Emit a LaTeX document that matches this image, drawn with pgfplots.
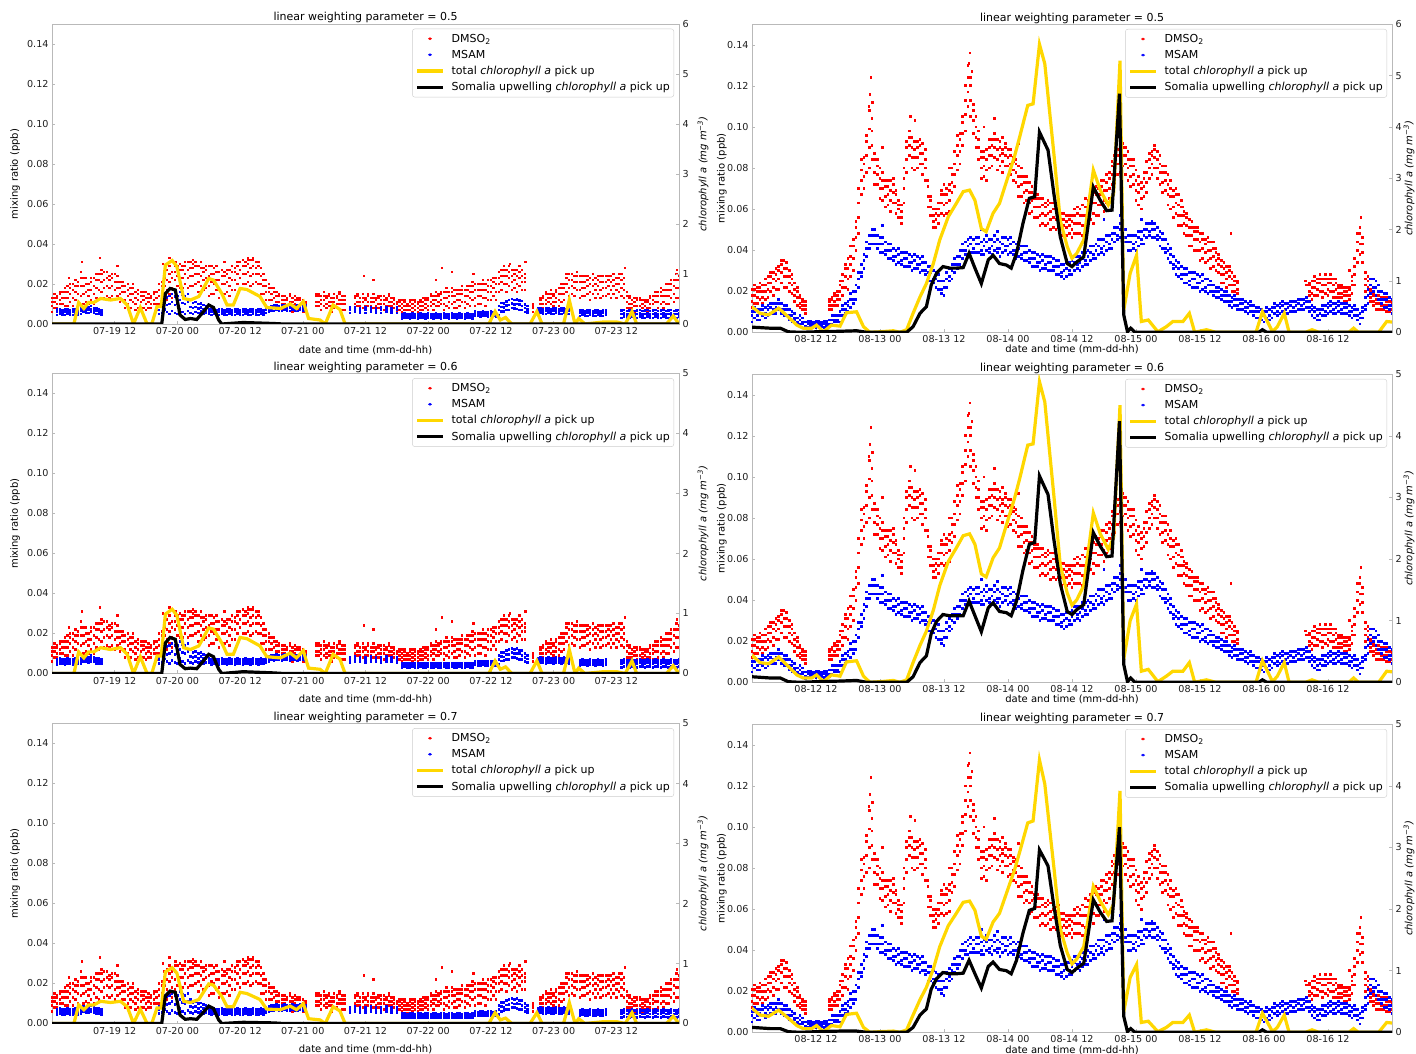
\documentclass[border=0pt]{standalone}
\usepackage{fontspec}
\setmainfont{DejaVu Sans}
\usepackage{pgfplots}
\usepackage{pgfplotstable}
\pgfplotsset{compat=1.18}
\definecolor{spine}{RGB}{185,185,185}
\definecolor{txt}{RGB}{30,30,30}
\definecolor{gold}{RGB}{255,215,0}
\definecolor{legbd}{RGB}{204,204,204}
\newcommand{\tickfont}{\fontsize{9.6}{11}\selectfont}
\newcommand{\labfont}{\fontsize{11}{13}\selectfont}
\pgfdeclareplotmark{sq}{\pgfpathrectangle{\pgfqpoint{-1.2pt}{-1.4pt}}{\pgfqpoint{2.4pt}{2.8pt}}\pgfusepathqfill}

% ---------- left column: DMSO2 (ppt = 0.001 ppb) ----------
\pgfplotstableread{
x a b c d
0 6 9 11 13
0.5 8 11 13 15
1 8 10 13 14
1.5 10 12 15 16
2 7 10 13 16
2.5 9 13 16 18
3 9 13 16 19
3.5 11 15 18 20
4 9 13 17 20
4.5 12 16 19 22
5 10 15 19 21
5.5 14 19 23 26
6 10 15 19 23
6.5 11 16 20 23
7 10 14 17 20
7.5 12 17 21 23
8 10 15 19 23
8.5 13 18 22 25
9 12 17 22 25
9.5 16 21 25 27
10 13 18 22 26
10.5 14 19 23 26
11 13 18 22 24
11.5 14 19 23 25
12 12 17 21 25
12.5 14 18 21 24
13 11 15 18 21
13.5 12 16 19 21
14 8 12 16 19
14.5 10 14 17 20
15 8 12 15 18
15.5 11 15 18 20
16 7 10 13 16
16.5 8 12 15 17
17 8 11 14 16
17.5 8 12 14 16
18 7 10 13 16
18.5 8 11 13 15
19 8 10 13 14
19.5 10 12 15 16
20 7 10 13 16
20.5 10 14 17 20
21 10 15 19 21
21.5 14 19 23 26
22 12 17 22 27
22.5 15 21 25 29
23 13 18 23 26
23.5 17 22 26 29
24 14 19 24 29
24.5 18 23 27 30
25 18 23 27 29
25.5 20 25 29 31
26 18 23 27 31
26.5 19 24 28 31
27 19 24 28 30
27.5 20 25 29 31
28 16 21 25 29
28.5 19 24 28 31
29 17 22 26 28
29.5 18 23 27 29
30 14 19 24 29
30.5 15 21 25 29
31 15 20 25 28
31.5 17 22 26 29
32 13 18 22 26
32.5 15 20 24 27
33 15 20 24 26
33.5 16 21 25 27
34 14 19 23 27
34.5 17 22 26 29
35 17 22 26 28
35.5 20 25 29 31
36 18 23 27 31
36.5 20 25 29 32
37 20 25 29 31
37.5 21 26 30 32
38 19 24 28 32
38.5 20 25 29 32
39 21 25 28 31
39.5 20 25 29 31
40 15 20 24 28
40.5 15 19 22 25
41 12 16 19 22
41.5 12 16 18 20
42 9 12 15 18
42.5 9 13 16 18
43 8 11 14 16
43.5 9 11 14 15
44 7 10 12 14
44.5 7 10 12 14
45 7 9 12 13
45.5 9 11 14 15
46 6 9 11 13
46.5 7 10 12 14
47 7 9 12 13
47.5 7 9 12 13
48 6 8 10 12
48.5 6 8 10 11
50.5 9 11 14 15
51 9 11 14 15
51.5 7 10 12 14
52 9 12 14 16
52.5 8 10 13 14
53 9 11 14 15
53.5 6 9 11 13
54 8 11 13 15
54.5 8 10 13 14
55 10 12 15 16
55.5 7 10 12 14
56 7 10 12 14
58 8 10 13 14
58.5 9 11 14 15
59 6 9 11 13
59.5 8 11 13 15
60 7 9 12 13
60.5 9 11 14 15
61 6 9 11 13
61.5 8 11 13 15
62 7 9 12 13
62.5 8 10 13 14
63 7 10 12 14
63.5 7 10 12 14
64 7 9 12 13
64.5 9 11 14 15
65 6 9 11 13
65.5 8 10 12 13
66 6 8 10 11
66.5 7 9 11 12
67 6 8 10 12
67.5 7 9 11 12
68 5 7 9 10
68.5 7 9 11 12
69 6 8 10 12
69.5 7 9 11 12
70 6 8 10 11
70.5 7 9 11 12
71 7 9 11 13
71.5 8 10 12 13
72 7 9 12 13
72.5 9 11 14 15
73 7 10 12 14
73.5 9 12 14 16
74 9 11 14 15
74.5 10 12 15 16
75 7 10 13 16
75.5 9 13 16 18
76 8 11 14 16
76.5 10 14 16 18
77 8 11 14 17
77.5 8 12 15 17
78 9 12 15 17
78.5 11 15 17 19
79 8 11 14 17
79.5 10 14 17 19
80 9 13 16 19
80.5 12 16 19 21
81 9 13 17 20
81.5 10 14 17 20
82 10 14 17 20
82.5 13 17 20 22
83 9 13 17 20
83.5 12 16 19 22
84 12 16 19 22
84.5 14 18 21 23
85 12 16 20 23
85.5 16 20 23 26
86 17 21 24 27
86.5 20 24 27 29
87 16 20 24 27
87.5 19 23 26 29
88 17 21 24 27
88.5 18 22 25 27
89 16 20 24 27
89.5 19 23 26 29
90 17 21 24 27
90.5 17 21 23 25
92 6 8 9 10
93.5 8 10 12 13
94 8 10 13 14
94.5 10 12 15 16
95 8 11 13 15
95.5 10 13 15 17
96 9 11 14 15
96.5 11 13 16 17
97 9 12 15 18
97.5 11 15 18 20
98 12 15 18 20
98.5 16 20 23 25
99 14 18 22 25
99.5 15 19 22 25
100 14 18 21 24
100.5 17 21 24 26
101 13 17 21 24
101.5 14 18 21 24
102 14 18 21 24
102.5 15 19 22 24
103 12 16 20 23
103.5 15 19 22 25
104 13 17 20 23
104.5 15 19 22 24
105 13 17 21 24
105.5 14 18 21 24
106 14 18 21 24
106.5 15 19 22 24
107 13 17 21 24
107.5 15 19 22 25
108 13 17 20 23
108.5 16 20 23 25
109 14 18 22 25
109.5 13 17 20 23
110 8 11 14 16
110.5 8 10 13 14
111 5 8 10 12
111.5 6 9 11 13
112 7 9 12 13
112.5 7 9 12 13
113 5 8 10 12
113.5 7 9 11 12
114 6 8 11 12
114.5 8 10 13 14
115 7 10 12 14
115.5 7 11 14 16
116 8 11 14 16
116.5 10 14 16 18
117 8 11 14 17
117.5 10 14 17 20
118 10 14 17 20
118.5 13 17 20 22
119 11 15 19 22
119.5 13 18 22 25
120 13 18 22 24
}\ld
\pgfplotstableread{
x y
3.3 23
5.7 31
9.2 33
12.5 29
21.3 30
22.5 33
23.6 31
27 32
33 31
36.5 32
37.5 33
38.5 33
59.7 24
61.5 22
73.5 22
74.6 28
76.5 26
80.7 25
87.7 30
90.6 31
109.7 28
119.6 27
}\ldo
% ---------- left column: MSAM ----------
\pgfplotstableread{
x a b c
1 4.5 6 7.2
1.5 5 6.3 7.5
2 4.7 5.8 7
2.5 4.5 6 7.2
3 5 6.3 7.5
3.5 4.7 5.8 7
4 4.5 6 7.2
4.5 5 6.3 7.5
5 4.7 5.8 7
5.5 5 6.5 7.7
6 6 7.3 8.5
6.5 5.7 6.8 8
7 5.5 7 8.2
7.5 6 7.3 9
8 5.7 6.8 8
8.5 5 6.5 7.7
9 5 6.3 7.5
9.5 4.7 5.8 7
20.5 5 7 8.6
21 5.5 9 11.8
21.5 7.2 10.8 14
22 6 9.5 13.4
22.5 5 10 14
23 6.5 11 15
23.5 5.5 9.5 13.8
24 5 10 14
24.5 7.5 12 16
25 6 10.5 14.5
25.5 5 10 14
26 6.5 11 15
26.5 5.5 8.5 12
27 5 8 10.5
27.5 6 8.5 11
28 5.5 7.6 10
28.5 6.2 8.3 10.3
29 5 7.5 9.5
29.5 5.6 7.3 9
30 5.2 6.3 7.5
30.5 4.5 6 7.2
31 5 6.3 7.5
31.5 4.7 5.8 7
32 4.5 6 7.2
32.5 5 6.3 7.5
33 4.7 5.8 7
33.5 4.5 6 7.2
34 5 6.3 7.5
34.5 4.7 5.8 7
35 4.5 6 7.2
35.5 5 6.3 7.5
36 4.7 5.8 7
36.5 4.5 6 7.2
37 5 6.3 7.5
37.5 4.7 5.8 7
38 4.5 6 7.2
38.5 5 6.3 7.5
39 4.7 5.8 7
39.5 4.5 6 7.2
40 5 6.3 7.5
40.5 4.7 5.8 7
41 5.5 7 8.2
41.5 6 7.3 8.5
42 6.7 7.8 9
42.5 6.5 8 9.2
43 7 8.3 9.5
43.5 6.7 7.8 9
44 6.5 8 9.2
44.5 7 8.3 9.5
45 6.7 7.8 9
45.5 6.5 8 9.2
46 7 8.3 9.5
46.5 6.7 7.8 9
47 6.5 8 9.2
47.5 7 8.3 9.5
48 6.7 7.8 9
48.5 6.5 8 9.2
57 5.5 7 8.2
58 6 7.3 8.5
59 5.7 6.8 8
60 5.5 7 8.2
61 6 7.3 8.5
62 5.7 6.8 8
63 5.5 7 8.2
64 6 7.3 8.5
65 5.7 6.8 8
66 5.5 7 8.2
67 2.8 4 5
67.5 3.2 4.3 5.2
68 3 3.8 4.8
68.5 2.8 4 5
69 3.2 4.3 5.2
69.5 3 3.8 4.8
70 2.8 4 5
70.5 3.2 4.3 5.2
71 3 3.8 4.8
71.5 2.8 4 5
72 3.2 4.3 5.2
72.5 3 3.8 4.8
73 2.8 4 5
73.5 3.2 4.3 5.2
74 3 3.8 4.8
74.5 2.8 4 5
75 3.2 4.3 5.2
75.5 3 3.8 4.8
76 2.8 4 5
76.5 3.2 4.3 5.2
77 3 3.8 4.8
77.5 2.8 4 5
78 3.2 4.3 5.2
78.5 3 3.8 4.8
79 2.8 4 5
79.5 3.2 4.3 5.2
80 3 3.8 4.8
80.5 2.8 4 5
81 4.2 5.3 6.2
81.5 4 4.8 5.8
82 3.8 5 6
82.5 4.2 5.3 6.2
83 4 4.8 5.8
83.5 3.8 5 6
84 4.2 5.3 6.2
84.5 4 4.8 5.8
85 3.8 5 6
85.5 4.5 7 9
86 6.2 8.5 10.5
86.5 6.4 8.2 10.4
87 7 9.3 11.4
87.5 7 9.5 12
88 8 10.3 12.5
88.5 7.9 9.8 12
89 7.5 10 12.4
89.5 7 9.8 11.6
90 7 9 11.5
90.5 6 8 9.9
91 5.6 7.2 9
93 5 6.5 7.7
93.5 5.5 6.8 8
94 5.2 6.3 7.5
94.5 5 6.5 7.7
95 5.5 6.8 8
95.5 5.2 6.3 7.5
96 5 6.5 7.7
96.5 5.5 6.8 8
97 5.2 6.3 7.5
97.5 5 6.5 7.7
98 5.5 6.8 8
98.5 5.2 6.3 7.5
99 5 6.5 7.7
101 4 5.5 6.7
101.5 4.5 5.8 7
102 4.2 5.3 6.5
102.5 4 5.5 6.7
103 4.5 5.8 7
103.5 4.2 5.3 6.5
104 4 5.5 6.7
104.5 4.5 5.8 7
105 4.2 5.3 6.5
105.5 4 5.5 6.7
106 4.5 5.8 7
109 3 5 6.6
109.5 3.6 5.4 7
110 3.3 4.8 6.5
110.5 3 5 6.6
111 3.6 5.4 7
111.5 3.3 4.8 6.5
112 3 5 6.6
112.5 3.6 5.4 7
113 3.3 4.8 6.5
113.5 3 5 6.6
114 3.6 5.4 7
114.5 3.3 4.8 6.5
115 3 5 6.6
115.5 3.6 5.4 7
116 3.3 4.8 6.5
116.5 3 5 6.6
117 3.6 5.4 7
117.5 3.3 4.8 6.5
118 3 5 6.6
118.5 3.6 5.4 7
119 3.3 4.8 6.5
119.5 3 5 6.6
120 3.6 5.4 7
}\lb
% ---------- left column chlorophyll lines (rows 1,2,3) ----------
\pgfplotstableread{
x r1 r2 r3
0 0 0 0
4.2 0 0 0
5.1 0.43 0.36 0.31
6.1 0.31 0.26 0.23
7.0 0.43 0.36 0.31
8.0 0.43 0.36 0.31
9.3 0.51 0.43 0.37
11.2 0.48 0.40 0.35
13.1 0.51 0.43 0.37
14.4 0.38 0.32 0.28
15.6 0 0 0
16.9 0.33 0.28 0.24
18.2 0 0 0
19.1 0 0 0
20.1 0.35 0.29 0.26
20.9 0.35 0.29 0.26
21.7 1.18 0.99 0.86
23.0 1.27 1.07 0.93
23.9 1.15 0.97 0.84
25.2 0.51 0.43 0.37
26.5 0.48 0.40 0.35
28.1 0.55 0.46 0.40
30.0 0.91 0.76 0.66
30.9 0.88 0.74 0.64
32.5 0.61 0.51 0.45
33.5 0.38 0.32 0.28
34.7 0.38 0.32 0.28
36.0 0.71 0.60 0.52
37.3 0.69 0.58 0.50
39.8 0.55 0.46 0.40
41.1 0.33 0.28 0.24
43.7 0.31 0.26 0.23
45.6 0.40 0.34 0.29
46.8 0.31 0.26 0.23
48.1 0.45 0.38 0.33
49.1 0.11 0.09 0.08
51.3 0.08 0.07 0.06
52.3 0 0 0
53.8 0.38 0.32 0.28
55.1 0.29 0.24 0.21
56.1 0 0 0
83.6 0 0 0
84.8 0.25 0.21 0.18
85.8 0.08 0.07 0.06
86.8 0.13 0.11 0.09
88.0 0 0 0
91.5 0 0 0
92.8 0.25 0.21 0.18
93.8 0 0 0
97.9 0 0 0
99.0 0.48 0.40 0.35
100.1 0 0 0
100.8 0.11 0.09 0.08
102.0 0 0 0
105.5 0.04 0.03 0.03
108.1 0.04 0.03 0.03
109.7 0 0 0
111.0 0.25 0.21 0.18
111.9 0 0 0
117.6 0 0 0
118.9 0.16 0.13 0.12
120 0 0 0
}\ly
\pgfplotstableread{
x r1 r2 r3
0 0 0 0
21.0 0 0 0
21.7 0.61 0.51 0.46
22.6 0.71 0.60 0.54
23.6 0.68 0.57 0.52
24.5 0.18 0.15 0.14
25.5 0.09 0.08 0.07
26.5 0.11 0.09 0.08
27.7 0.09 0.08 0.07
28.7 0.21 0.18 0.16
30.0 0.38 0.32 0.29
30.9 0.33 0.28 0.25
31.9 0.08 0.07 0.06
32.5 0 0 0
36.6 0.03 0.03 0.02
42.4 0.01 0.01 0.01
44.3 0 0 0
120 0 0 0
}\lk
% ---------- right column: DMSO2 ----------
\pgfplotstableread{
x a b c d
0 12 15 18 21
0.5 14 18 21 23
1 14 17 20 22
1.5 16 20 22 24
2 14 17 20 23
2.5 16 20 23 26
3 17 21 24 27
3.5 20 24 27 29
4 18 22 26 29
4.5 21 25 28 31
5 21 26 30 32
5.5 24 29 33 35
6 22 27 31 35
6.5 22 27 31 34
7 20 24 27 30
7.5 19 23 26 28
8 15 18 21 24
8.5 13 17 20 22
9 12 14 17 18
9.5 11 13 15 16
10 9 11 13 15
14.5 11 13 15 16
15 11 13 16 17
15.5 13 15 18 19
16 13 16 18 20
16.5 16 20 23 25
17 18 22 25 28
17.5 22 27 31 33
18 21 26 31 36
18.5 27 33 37 42
19 30 36 42 45
19.5 40 46 51 54
20 48 56 63 70
20.5 67 74 79 84
21 70 76 82 85
21.5 78 86 93 96
22 80 90 99 108
22.5 84 91 98 104
23 72 78 84 87
23.5 72 77 81 84
24 65 70 75 80
24.5 64 70 74 78
25 61 66 71 74
25.5 62 67 71 74
26 59 64 69 74
26.5 63 68 72 75
27 58 63 67 69
27.5 56 60 62 64
28 53 56 59 62
28.5 63 70 75 80
29 78 84 90 93
29.5 86 91 95 98
30 80 85 90 95
30.5 79 85 89 93
31 80 85 90 93
31.5 82 87 91 94
32 77 82 87 92
32.5 74 80 84 89
33 61 66 71 74
33.5 57 61 64 66
34 51 54 57 60
34.5 51 55 58 60
35 53 57 60 63
35.5 58 63 67 69
36 57 62 67 72
36.5 58 63 67 70
37 59 64 69 72
37.5 68 73 77 80
38 71 77 82 88
38.5 79 86 91 96
39 82 88 94 97
39.5 91 97 102 105
40 98 106 113 120
40.5 110 117 124 130
41 105 113 120 124
41.5 97 103 108 111
42 90 95 100 105
42.5 84 90 94 98
43 75 80 85 88
43.5 76 81 85 88
44 74 79 84 89
44.5 80 86 90 94
45 81 86 91 94
45.5 85 90 94 97
46 79 84 89 94
46.5 81 86 90 93
47 78 83 87 89
47.5 81 86 90 92
48 76 81 85 89
48.5 77 82 86 89
49 74 79 83 85
49.5 73 78 82 84
50 66 71 76 81
50.5 66 72 76 80
51 63 68 73 76
51.5 64 69 73 76
52 58 63 68 73
52.5 59 64 68 71
53 56 61 65 67
53.5 56 61 65 67
54 52 57 61 65
54.5 53 58 62 65
55 52 57 61 63
55.5 53 58 62 64
56 50 55 59 63
56.5 51 56 60 63
57 50 55 59 61
57.5 51 56 60 62
58 47 51 55 58
58.5 48 52 55 58
59 47 51 54 57
59.5 48 52 55 57
60 46 50 54 57
60.5 48 53 57 60
61 48 53 58 61
61.5 48 53 57 60
62 47 52 57 62
62.5 51 57 61 65
63 51 56 61 64
63.5 55 60 64 67
64 53 58 63 68
64.5 57 63 67 71
65 57 62 67 70
65.5 62 67 71 74
66 59 64 69 74
66.5 63 69 73 77
67 65 70 75 78
67.5 72 77 81 83
68 73 78 82 86
68.5 77 82 86 89
69 78 83 87 89
69.5 81 86 90 92
70 77 82 86 90
70.5 74 80 84 88
71 71 76 81 84
71.5 72 77 81 84
72 64 69 74 79
72.5 62 68 72 76
73 60 65 70 73
73.5 66 71 75 78
74 68 73 78 83
74.5 75 80 84 87
75 77 82 86 88
75.5 80 85 89 91
76 75 80 84 88
76.5 72 78 82 86
77 68 73 78 81
77.5 69 74 78 81
78 62 67 72 77
78.5 60 66 70 74
79 56 61 66 69
79.5 58 63 67 70
80 52 57 62 67
80.5 52 57 61 64
81 48 53 57 59
81.5 47 52 56 58
82 42 47 51 55
82.5 42 47 51 54
83 40 45 49 51
83.5 40 45 49 51
84 35 40 44 48
84.5 36 41 45 48
85 34 39 43 45
85.5 35 40 44 46
86 31 36 40 44
86.5 32 37 41 44
87 30 35 39 41
87.5 29 33 36 38
88 24 28 32 35
88.5 24 28 31 34
89 22 26 29 32
89.5 23 27 30 32
90 20 23 26 29
90.5 20 23 25 27
91 19 21 24 25
104.5 18 20 23 24
105 16 19 22 25
105.5 18 22 25 27
106 18 21 24 26
106.5 20 24 26 28
107 17 20 23 26
107.5 19 23 26 28
108 18 21 24 26
108.5 20 24 26 28
109 17 20 23 26
109.5 17 21 24 26
110 17 19 22 23
110.5 17 19 22 23
111 15 18 20 22
111.5 15 18 20 22
112 16 18 21 22
112.5 19 23 25 27
113 23 28 32 36
113.5 34 40 44 48
114 38 43 48 51
114.5 34 39 43 46
115 20 23 26 29
115.5 18 22 25 27
116 15 17 20 21
116.5 13 15 18 19
117 11 14 16 18
117.5 11 14 16 18
118 11 13 16 17
118.5 11 13 16 17
119 10 13 15 17
119.5 10 13 15 17
120 9 11 14 15
}\rd
\pgfplotstableread{
x y
21.9 110
22.1 116
22.3 124
22.6 112
24.5 90
29.7 105
30.6 103
37 80
40.7 131
40.9 136
41.2 127
43.5 100
45.5 104
47 95
50 92
80.8 61
89.8 48
103.8 25
104 23
112 30
114.2 56
}\rdo
% ---------- right column: MSAM ----------
\pgfplotstableread{
x a b c
0 5 8 10
0.5 7 10 12
1 6 8 11
1.5 6 9 11
2 8 11 13
2.5 7 9 12
3 8 11 13
3.5 9 12 14
4 9 11 14
4.5 9 12 14
5 11 14 16
5.5 9 11 14
6 8 11 13
6.5 8 11 13
7 6 8 11
7.5 5 8 10
8 6 7 9
8.5 4 5 7
9 4 6 8
9.5 4 5 7
10 2 3 5
10.5 2.5 4 5.2
11 3 4.3 5.5
11.5 2.7 3.8 5
12 2.5 4 5.2
12.5 3 4.3 5.5
13 2.7 3.8 5
13.5 2.5 4 5.2
14 3 4.3 5.5
14.5 3 4 6
15 4 6 8
15.5 5 6 8
16 5 6 8
16.5 5 8 10
17 8 11 13
17.5 9 11 14
18 10 13 15
18.5 12 16 19
19 14 16 20
19.5 16 20 23
20 22 26 29
20.5 27 29 33
21 31 35 38
21.5 37 41 44
22 41 43 47
22.5 43 47 50
23 43 47 50
23.5 41 43 47
24 39 43 46
24.5 39 43 46
25 38 40 44
25.5 36 40 43
26 36 40 43
26.5 35 37 41
27 33 37 40
27.5 34 38 41
28 33 35 39
28.5 32 36 39
29 32 36 39
29.5 32 34 38
30 30 34 37
30.5 31 35 38
31 31 33 37
31.5 29 33 36
32 30 34 37
32.5 28 30 34
33 25 29 32
33.5 25 29 32
34 24 26 30
34.5 22 26 29
35 21 25 28
35.5 19 21 25
36 18 22 25
36.5 22 26 29
37 25 27 31
37.5 26 30 33
38 29 33 36
38.5 31 33 37
39 33 37 40
39.5 36 40 43
40 38 40 44
40.5 38 42 45
41 39 43 46
41.5 39 41 45
42 39 43 46
42.5 39 43 46
43 38 40 44
43.5 38 42 45
44 40 44 47
44.5 39 41 45
45 38 42 45
45.5 40 44 47
46 39 41 45
46.5 37 41 44
47 39 43 46
47.5 40 42 46
48 38 42 45
48.5 39 43 46
49 38 40 44
49.5 36 40 43
50 37 41 44
50.5 36 38 42
51 35 39 42
51.5 35 39 42
52 34 36 40
52.5 32 36 39
53 32 36 39
53.5 32 34 38
54 30 34 37
54.5 31 35 38
55 31 33 37
55.5 30 34 37
56 30 34 37
56.5 30 32 36
57 28 32 35
57.5 28 32 35
58 27 29 33
58.5 26 30 33
59 27 31 34
59.5 28 30 34
60 28 32 35
60.5 30 34 37
61 31 33 37
61.5 30 34 37
62 32 36 39
62.5 33 35 39
63 33 37 40
63.5 35 39 42
64 36 38 42
64.5 36 40 43
65 38 42 45
65.5 39 41 45
66 38 42 45
66.5 40 44 47
67 41 43 47
67.5 41 45 48
68 44 48 51
68.5 45 47 51
69 46 50 53
69.5 47 51 54
70 44 46 50
70.5 40 44 47
71 40 44 47
71.5 41 43 47
72 40 44 47
72.5 42 46 49
73 43 45 49
73.5 43 47 50
74 46 50 53
74.5 47 49 53
75 46 50 53
75.5 46 50 53
76 45 47 51
76.5 42 46 49
77 41 45 48
77.5 39 41 45
78 36 40 43
78.5 34 38 41
79 31 33 37
79.5 28 32 35
80 27 31 34
80.5 26 28 32
81 24 28 31
81.5 24 28 31
82 23 25 29
82.5 22 26 29
83 22 26 29
83.5 22 24 28
84 20 24 27
84.5 21 25 28
85 20 22 26
85.5 19 23 26
86 20 23 25
86.5 18 20 23
87 17 20 22
87.5 17 20 22
88 16 18 21
88.5 15 18 20
89 15 18 20
89.5 13 15 18
90 12 15 17
90.5 13 16 18
91 11 13 16
91.5 11 14 16
92 11 14 16
92.5 10 12 15
93 9 12 14
93.5 10 13 15
94 8 10 13
94.5 7 10 12
95 7 10 12
95.5 6 8 11
96 5 8 10
96.5 7 10 12
97 6 8 11
97.5 7 10 12
98 9 12 14
98.5 8 10 13
99 9 12 14
99.5 10 13 15
100 9 11 14
100.5 9 12 14
101 10 13 15
101.5 10 12 15
102 10 13 15
102.5 11 14 16
103 11 13 16
103.5 11 14 16
104 12 15 17
104.5 10 12 15
105 8 11 13
105.5 7 10 12
106 6 8 11
106.5 6 9 11
107 8 11 13
107.5 8 10 13
108 9 12 14
108.5 10 13 15
109 9 11 14
109.5 9 12 14
110 10 13 15
110.5 9 11 14
111 9 12 14
111.5 9 12 14
112 8 10 13
112.5 7 10 12
113 8 11 13
113.5 6 8 11
114 4 7 9
114.5 7 10 12
115 11 13 17
115.5 14 18 21
116 19 23 26
116.5 20 22 26
117 18 22 25
117.5 16 20 23
118 14 16 20
118.5 12 16 19
119 12 16 19
119.5 11 13 17
120 9 13 16
}\rb
\pgfplotstableread{
x y
24.5 52
43 50
46 49
66 55
69 57
73 55
75 54
}\rbo
% ---------- right column chlorophyll lines ----------
\pgfplotstableread{
x r1 r2 r3
0 0.50 0.44 0.39
1.5 0.37 0.32 0.28
3.1 0.34 0.30 0.26
5.0 0.47 0.41 0.36
6.8 0.30 0.26 0.23
8.4 0.14 0.12 0.11
9.6 0.08 0.07 0.06
11.2 0.08 0.07 0.06
12.1 0.14 0.12 0.11
13.4 0.01 0.01 0.01
14.9 0.14 0.12 0.11
16.5 0.12 0.10 0.09
17.7 0.38 0.33 0.29
19.6 0.40 0.35 0.31
20.9 0.11 0.10 0.08
22.1 0 0 0
24.0 0.01 0.01 0.01
26.5 0.03 0.03 0.02
27.7 0 0 0
29.0 0.05 0.04 0.04
30.2 0.37 0.32 0.28
31.5 0.69 0.60 0.53
32.7 0.95 0.83 0.73
34.0 1.34 1.17 1.03
35.2 1.80 1.57 1.39
36.8 2.25 1.96 1.73
38.3 2.51 2.18 1.93
39.6 2.74 2.38 2.11
40.8 2.77 2.41 2.13
41.8 2.57 2.24 1.98
43.0 2.02 1.76 1.56
43.9 1.96 1.71 1.51
45.2 2.32 2.02 1.79
46.4 2.51 2.18 1.93
48.0 3.03 2.64 2.33
49.2 3.42 2.98 2.63
50.2 3.81 3.31 2.93
51.7 4.42 3.85 3.40
52.7 4.45 3.87 3.43
53.9 5.61 4.88 4.42
54.9 5.23 4.55 4.03
55.8 4.30 3.74 3.31
56.6 3.48 3.03 2.68
57.8 2.18 1.90 1.68
59.1 1.67 1.45 1.29
60.0 1.44 1.25 1.11
60.9 1.54 1.34 1.19
62.2 1.80 1.57 1.39
64.0 3.16 2.75 2.37
65.3 2.77 2.41 2.13
66.8 2.48 2.16 1.91
67.8 2.70 2.35 2.08
69.0 5.29 4.50 3.92
69.7 0.43 0.37 0.33
70.9 1.15 1.00 0.89
72.1 1.50 1.27 1.10
73.0 0.21 0.18 0.16
74.3 0.24 0.21 0.18
76.1 0.01 0.01 0.01
77.7 0.11 0.10 0.08
78.9 0.21 0.18 0.16
80.8 0.21 0.18 0.16
82.0 0.37 0.32 0.28
83.0 0 0 0
85.2 0.05 0.04 0.04
87.0 0 0 0
94.5 0 0 0
95.7 0.40 0.35 0.31
97.6 0.01 0.01 0.01
98.5 0.11 0.10 0.08
99.8 0.37 0.32 0.28
100.7 0 0 0
103.8 0 0 0
105.0 0.05 0.04 0.04
106.3 0 0 0
111.9 0 0 0
112.8 0.08 0.07 0.06
113.7 0 0 0
117.5 0 0 0
119.0 0.21 0.18 0.16
120 0.20 0.17 0.15
}\ry
\pgfplotstableread{
x r1 r2 r3
0 0.10 0.09 0.08
3.4 0.08 0.07 0.06
5.3 0.08 0.07 0.06
6.8 0.01 0.01 0.01
9.0 0 0 0
12.1 0.01 0.01 0.01
16.5 0.02 0.02 0.02
19.6 0.03 0.03 0.02
21.5 0 0 0
29.0 0 0 0
30.2 0.11 0.09 0.08
31.5 0.37 0.32 0.28
32.7 0.50 0.43 0.38
33.6 0.92 0.79 0.70
34.6 1.15 0.99 0.87
35.8 1.28 1.10 0.97
37.1 1.25 1.08 0.95
38.3 1.25 1.08 0.95
39.6 1.26 1.08 0.96
40.7 1.54 1.32 1.17
41.8 1.25 1.08 0.95
43.0 0.95 0.82 0.72
44.3 1.41 1.21 1.07
45.2 1.50 1.29 1.14
46.4 1.34 1.15 1.02
47.7 1.31 1.13 1.00
48.6 1.25 1.08 0.95
49.6 1.54 1.32 1.17
50.8 2.12 1.82 1.61
52.0 2.61 2.24 1.98
53.0 2.64 2.27 2.01
53.9 3.90 3.35 2.96
54.9 3.68 3.16 2.80
55.5 3.55 3.05 2.70
56.6 2.70 2.32 2.05
57.8 1.86 1.60 1.41
59.1 1.34 1.15 1.02
60.0 1.28 1.10 0.97
60.9 1.37 1.18 1.04
62.2 1.47 1.26 1.12
64.0 2.83 2.43 2.15
65.3 2.57 2.21 1.95
66.5 2.37 2.04 1.80
67.5 2.38 2.05 1.81
68.9 4.65 4.24 3.33
69.7 0.34 0.29 0.26
70.4 0.01 0.01 0.01
71.0 0.08 0.07 0.06
71.8 0 0 0
95.0 0 0 0
95.7 0.05 0.04 0.04
96.5 0 0 0
120 0 0 0
}\rk

\pgfplotsset{
  base/.style={scale only axis, xmin=0, xmax=120, anchor=south west,
    axis line style={draw=spine, line width=0.8pt},
    tick style={draw=spine, line width=0.6pt},
    major tick length=3pt, tick align=inside,
    ticklabel style={font=\tickfont, text=txt},
    /pgf/number format/assume math mode=true,
    label style={font=\labfont, text=black}},
  prim/.style={base, ymin=0, ymax=150, ytick={0,20,...,140},
    yticklabels={0.00,0.02,0.04,0.06,0.08,0.10,0.12,0.14},
    xtick pos=bottom, ytick pos=left,
    ylabel={mixing ratio (ppb)}, xlabel={date and time (mm-dd-hh)},
    title style={font=\labfont, at={(axis description cs:0.5,1)}, anchor=base, yshift=-3pt}},
  lxt/.style={xtick={12,24,...,108},
    xticklabels={07-19 12,07-20 00,07-20 12,07-21 00,07-21 12,07-22 00,07-22 12,07-23 00,07-23 12}},
  rxt/.style={xtick={12,24,...,108},
    xticklabels={08-12 12,08-13 00,08-13 12,08-14 00,08-14 12,08-15 00,08-15 12,08-16 00,08-16 12}},
  lpan/.style={width=627pt, height=300pt,
    every axis y label/.style={at={(axis description cs:-0.059,0.5)}, rotate=90, anchor=center},
    every axis x label/.style={at={(axis description cs:0.5,-0.087)}, anchor=center}},
  rpan/.style={width=640pt, height=308pt,
    every axis y label/.style={at={(axis description cs:-0.047,0.5)}, rotate=90, anchor=center},
    every axis x label/.style={at={(axis description cs:0.5,-0.057)}, anchor=center}},
  sec/.style={base, axis x line=none, axis y line*=right, ymin=0,
    ylabel={\textit{chlorophyll a (mg m\textsuperscript{−3})}},
    legend cell align=left,
    legend image post style={xscale=1.47},
    legend style={at={(1,1)}, anchor=north east, xshift=-5pt, yshift=-4.7pt,
      draw=legbd, rounded corners=2.5pt, fill=white, font=\labfont,
      inner xsep=3.5pt, inner ysep=4.5pt, row sep=5.4pt, column sep=7pt,
      nodes={inner sep=0.5pt}}},
  lsec/.style={width=627pt, height=300pt,
    every axis y label/.style={at={(axis description cs:1.0383,0.5)}, rotate=90, anchor=center}},
  rsec/.style={width=640pt, height=308pt,
    every axis y label/.style={at={(axis description cs:1.0266,0.5)}, rotate=90, anchor=center}},
  dm/.style={only marks, mark=sq, red},
  ms/.style={only marks, mark=sq, blue},
  dmleg/.style={only marks, mark=*, mark size=1.1pt, red},
  msleg/.style={only marks, mark=*, mark size=1.1pt, blue},
  yl/.style={draw=gold, line width=3.2pt, no markers},
  bl/.style={draw=black, line width=3.2pt, no markers},
}

\begin{document}
\begin{tikzpicture}
\useasboundingbox (0,0) rectangle (1416pt,1053pt);

% ===== Row 1 left =====
\begin{axis}[prim, lxt, lpan, at={(52pt,729pt)}, title={linear weighting parameter = 0.5}]
\addplot[dm] table[x=x,y=a]{\ld};
\addplot[dm] table[x=x,y=b]{\ld};
\addplot[dm] table[x=x,y=c]{\ld};
\addplot[dm] table[x=x,y=d]{\ld};
\addplot[dm] table[x=x,y=y]{\ldo};
\addplot[ms] table[x=x,y=a]{\lb};
\addplot[ms] table[x=x,y=b]{\lb};
\addplot[ms] table[x=x,y=c]{\lb};
\end{axis}
\begin{axis}[sec, lsec, at={(52pt,729pt)}, ymax=6, ytick={0,...,6}]
\addlegendimage{dmleg}\addlegendentry{DMSO\textsubscript{2}}
\addlegendimage{msleg}\addlegendentry{MSAM}
\addplot[yl] table[x=x,y=r1]{\ly};\addlegendentry{total \textit{chlorophyll a} pick up}
\addplot[bl] table[x=x,y=r1]{\lk};\addlegendentry{Somalia upwelling \textit{chlorophyll a} pick up}
\end{axis}

% ===== Row 2 left =====
\begin{axis}[prim, lxt, lpan, at={(52pt,379.5pt)}, title={linear weighting parameter = 0.6}]
\addplot[dm] table[x=x,y=a]{\ld};
\addplot[dm] table[x=x,y=b]{\ld};
\addplot[dm] table[x=x,y=c]{\ld};
\addplot[dm] table[x=x,y=d]{\ld};
\addplot[dm] table[x=x,y=y]{\ldo};
\addplot[ms] table[x=x,y=a]{\lb};
\addplot[ms] table[x=x,y=b]{\lb};
\addplot[ms] table[x=x,y=c]{\lb};
\end{axis}
\begin{axis}[sec, lsec, at={(52pt,379.5pt)}, ymax=5, ytick={0,...,5}]
\addlegendimage{dmleg}\addlegendentry{DMSO\textsubscript{2}}
\addlegendimage{msleg}\addlegendentry{MSAM}
\addplot[yl] table[x=x,y=r2]{\ly};\addlegendentry{total \textit{chlorophyll a} pick up}
\addplot[bl] table[x=x,y=r2]{\lk};\addlegendentry{Somalia upwelling \textit{chlorophyll a} pick up}
\end{axis}

% ===== Row 3 left =====
\begin{axis}[prim, lxt, lpan, at={(52pt,29.5pt)}, title={linear weighting parameter = 0.7}]
\addplot[dm] table[x=x,y=a]{\ld};
\addplot[dm] table[x=x,y=b]{\ld};
\addplot[dm] table[x=x,y=c]{\ld};
\addplot[dm] table[x=x,y=d]{\ld};
\addplot[dm] table[x=x,y=y]{\ldo};
\addplot[ms] table[x=x,y=a]{\lb};
\addplot[ms] table[x=x,y=b]{\lb};
\addplot[ms] table[x=x,y=c]{\lb};
\end{axis}
\begin{axis}[sec, lsec, at={(52pt,29.5pt)}, ymax=5, ytick={0,...,5}]
\addlegendimage{dmleg}\addlegendentry{DMSO\textsubscript{2}}
\addlegendimage{msleg}\addlegendentry{MSAM}
\addplot[yl] table[x=x,y=r3]{\ly};\addlegendentry{total \textit{chlorophyll a} pick up}
\addplot[bl] table[x=x,y=r3]{\lk};\addlegendentry{Somalia upwelling \textit{chlorophyll a} pick up}
\end{axis}

% ===== Row 1 right =====
\begin{axis}[prim, rxt, rpan, at={(752pt,720.7pt)}, title={linear weighting parameter = 0.5}]
\addplot[dm] table[x=x,y=a]{\rd};
\addplot[dm] table[x=x,y=b]{\rd};
\addplot[dm] table[x=x,y=c]{\rd};
\addplot[dm] table[x=x,y=d]{\rd};
\addplot[dm] table[x=x,y=y]{\rdo};
\addplot[ms] table[x=x,y=a]{\rb};
\addplot[ms] table[x=x,y=b]{\rb};
\addplot[ms] table[x=x,y=c]{\rb};
\addplot[ms] table[x=x,y=y]{\rbo};
\end{axis}
\begin{axis}[sec, rsec, at={(752pt,720.7pt)}, ymax=6, ytick={0,...,6}]
\addlegendimage{dmleg}\addlegendentry{DMSO\textsubscript{2}}
\addlegendimage{msleg}\addlegendentry{MSAM}
\addplot[yl] table[x=x,y=r1]{\ry};\addlegendentry{total \textit{chlorophyll a} pick up}
\addplot[bl] table[x=x,y=r1]{\rk};\addlegendentry{Somalia upwelling \textit{chlorophyll a} pick up}
\end{axis}

% ===== Row 2 right =====
\begin{axis}[prim, rxt, rpan, at={(752pt,370.7pt)}, title={linear weighting parameter = 0.6}]
\addplot[dm] table[x=x,y=a]{\rd};
\addplot[dm] table[x=x,y=b]{\rd};
\addplot[dm] table[x=x,y=c]{\rd};
\addplot[dm] table[x=x,y=d]{\rd};
\addplot[dm] table[x=x,y=y]{\rdo};
\addplot[ms] table[x=x,y=a]{\rb};
\addplot[ms] table[x=x,y=b]{\rb};
\addplot[ms] table[x=x,y=c]{\rb};
\addplot[ms] table[x=x,y=y]{\rbo};
\end{axis}
\begin{axis}[sec, rsec, at={(752pt,370.7pt)}, ymax=5, ytick={0,...,5}]
\addlegendimage{dmleg}\addlegendentry{DMSO\textsubscript{2}}
\addlegendimage{msleg}\addlegendentry{MSAM}
\addplot[yl] table[x=x,y=r2]{\ry};\addlegendentry{total \textit{chlorophyll a} pick up}
\addplot[bl] table[x=x,y=r2]{\rk};\addlegendentry{Somalia upwelling \textit{chlorophyll a} pick up}
\end{axis}

% ===== Row 3 right =====
\begin{axis}[prim, rxt, rpan, at={(752pt,20.7pt)}, title={linear weighting parameter = 0.7}]
\addplot[dm] table[x=x,y=a]{\rd};
\addplot[dm] table[x=x,y=b]{\rd};
\addplot[dm] table[x=x,y=c]{\rd};
\addplot[dm] table[x=x,y=d]{\rd};
\addplot[dm] table[x=x,y=y]{\rdo};
\addplot[ms] table[x=x,y=a]{\rb};
\addplot[ms] table[x=x,y=b]{\rb};
\addplot[ms] table[x=x,y=c]{\rb};
\addplot[ms] table[x=x,y=y]{\rbo};
\end{axis}
\begin{axis}[sec, rsec, at={(752pt,20.7pt)}, ymax=5, ytick={0,...,5}]
\addlegendimage{dmleg}\addlegendentry{DMSO\textsubscript{2}}
\addlegendimage{msleg}\addlegendentry{MSAM}
\addplot[yl] table[x=x,y=r3]{\ry};\addlegendentry{total \textit{chlorophyll a} pick up}
\addplot[bl] table[x=x,y=r3]{\rk};\addlegendentry{Somalia upwelling \textit{chlorophyll a} pick up}
\end{axis}
\end{tikzpicture}
\end{document}
